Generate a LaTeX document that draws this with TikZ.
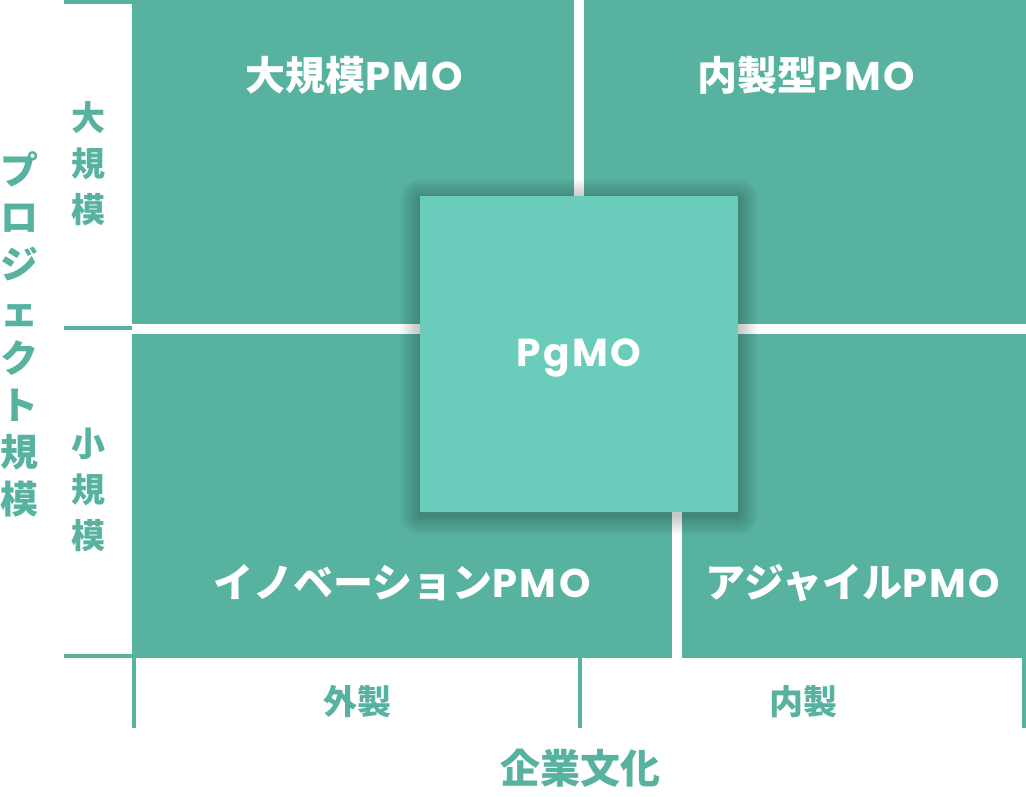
\documentclass[tikz,border=0pt]{standalone}
\usepackage{fontspec}
\setmainfont{Poppins}
\newfontfamily\jp{Noto Sans CJK JP}
\newfontfamily\pmo{Poppins}[LetterSpace=6]
\definecolor{quadgreen}{HTML}{58B2A0}
\definecolor{coregreen}{HTML}{6ACCBA}
\tikzset{
  quad/.style={fill=quadgreen, inner sep=0pt, anchor=north west},
  qlabel/.style={text=white, font=\bfseries\fontsize{40}{46}\selectfont},
  axisline/.style={draw=quadgreen, line width=4pt},
  axislabel/.style={text=quadgreen, align=center, font=\jp\bfseries\fontsize{34}{46}\selectfont},
}

\begin{document}
\begin{tikzpicture}[x=1pt,y=-1pt]
            \useasboundingbox (0,0) rectangle (1026,796);

            % quadrants
            \node[quad, minimum width=442pt, minimum height=324pt] (large) at (132,0) {};
            \node[quad, minimum width=442pt, minimum height=324pt] (inhouse) at (584,0) {};
            \node[quad, minimum width=540pt, minimum height=324pt] (innov) at (132,334) {};
            \node[quad, minimum width=344pt, minimum height=324pt] (agile) at (682,334) {};

            \node[qlabel] (largeT) at (354,75) {{\jp 大規模}{\pmo PMO}};
            \node[qlabel] (inhouseT) at (806,75) {{\jp 内製型}{\pmo PMO}};
            \node[qlabel] (innovT) at (402,583) {{\jp イノベーション}{\pmo PMO}};
            \node[qlabel] (agileT) at (853,583) {{\jp アジャイル}{\pmo PMO}};

            % centre box with soft shadow
            \coordinate (pgmoSW) at (420,512);
            \coordinate (pgmoNE) at (738,196);
            \foreach \i in {1,...,20}
              \fill[black, opacity=0.012, rounded corners=\i pt] ([shift={(-\i pt,-\i pt-3pt)}]pgmoSW) rectangle ([shift={(\i pt,\i pt-3pt)}]pgmoNE);
            \node[fill=coregreen, minimum width=318pt, minimum height=316pt, inner sep=0pt] (pgmo) at (579,354) {};
            \node[text=white, font=\bfseries\fontsize{39}{44}\selectfont] (pgmoT) at (579,358) {\pmo PgMO};

            % axes
            \draw[axisline] (64,2) -- (132,2);
            \draw[axisline] (64,328) -- (132,328);
            \draw[axisline] (64,656) -- (132,656);
            \draw[axisline] (134,658) -- (134,728);
            \draw[axisline] (580,658) -- (580,728);
            \draw[axisline] (1024,658) -- (1024,728);

            \node[axislabel] (bigT) at (88,164) {大\\規\\模};
            \node[axislabel] (smallT) at (88,490) {小\\規\\模};
            \node[axislabel, font=\jp\bfseries\fontsize{38}{47}\selectfont] (scaleT) at (20,334) {プ\\ロ\\ジ\\ェ\\ク\\ト\\規\\模};
            \node[axislabel] (outT) at (357,702) {外製};
            \node[axislabel] (inT) at (803,702) {内製};
            \node[axislabel, font=\jp\bfseries\fontsize{40}{46}\selectfont] (cultureT) at (580,768) {企業文化};
\end{tikzpicture}
\end{document}
